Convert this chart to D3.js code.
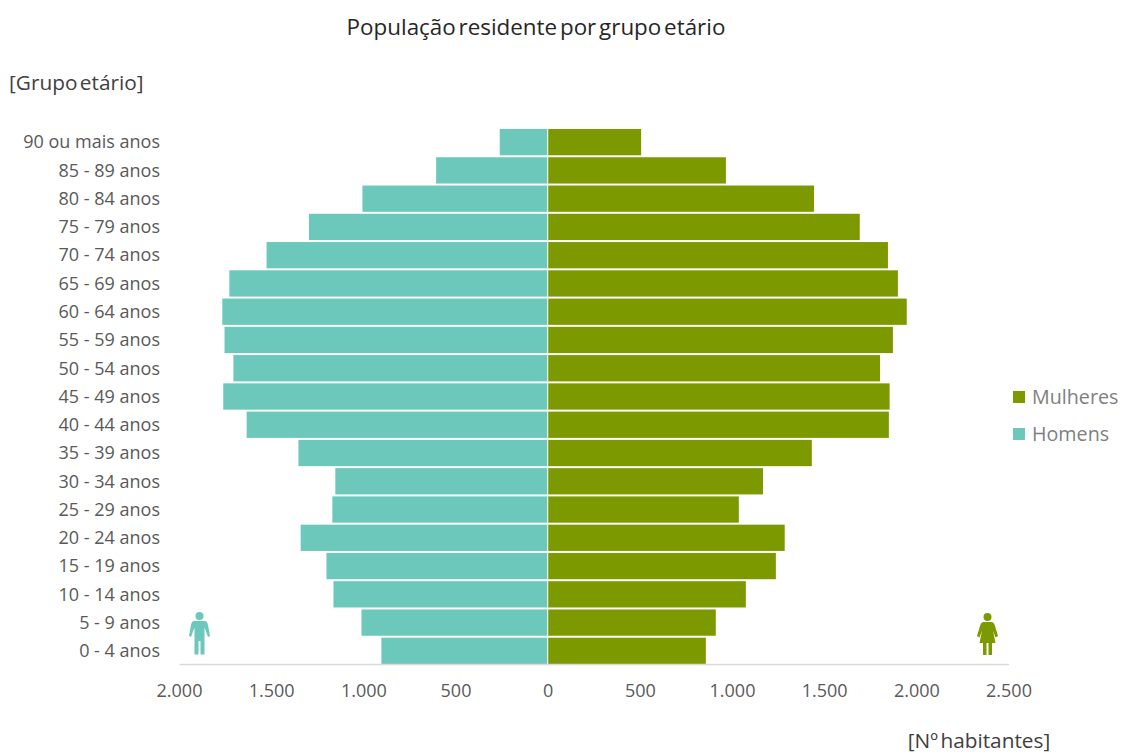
<!DOCTYPE html>
<html lang="pt">
<head>
<meta charset="utf-8">
<title>População residente por grupo etário</title>
<script src="https://cdn.jsdelivr.net/npm/d3@7"></script>
<style>
  html, body { margin: 0; padding: 0; background: #fff; }
  svg { display: block; font-family: "Open Sans", sans-serif; }
  .tick-label { font-size: 18px; fill: #595959; font-family: "Open Sans", sans-serif; }
</style>
</head>
<body>
<div id="chart"></div>
<script>
// Age groups, oldest first (top of the pyramid)
const groups = ["90 ou mais anos","85 - 89 anos","80 - 84 anos","75 - 79 anos","70 - 74 anos","65 - 69 anos","60 - 64 anos","55 - 59 anos","50 - 54 anos","45 - 49 anos","40 - 44 anos","35 - 39 anos","30 - 34 anos","25 - 29 anos","20 - 24 anos","15 - 19 anos","10 - 14 anos","5 - 9 anos","0 - 4 anos"];
const homens = [260,605,1005,1295,1525,1727,1765,1753,1705,1760,1633,1352,1152,1168,1340,1200,1162,1010,902];
const mulheres = [507,967,1445,1693,1846,1900,1948,1873,1803,1855,1851,1433,1168,1037,1286,1238,1075,912,858];
const xTicks = [-2000,-1500,-1000,-500,0,500,1000,1500,2000,2500];

const colorHomens = "#6cc8ba";
const colorMulheres = "#7c9a00";
const fmt = v => String(Math.abs(v)).replace(/\B(?=(\d{3})+$)/g, ".");

const width = 1122, height = 754;
const svg = d3.select("#chart").append("svg").attr("width", width).attr("height", height);

const x = d3.scaleLinear().domain([-2000, 2500]).range([179, 1008.5]);
const y = d3.scaleBand().domain(groups).range([129, 664]).paddingInner(0.07).paddingOuter(0);

// Men extend to the left of zero, women to the right
svg.append("g").selectAll("rect").data(groups).join("rect")
  .attr("x", (d, i) => x(-homens[i]))
  .attr("y", d => y(d))
  .attr("width", (d, i) => x(0) - x(-homens[i]))
  .attr("height", y.bandwidth())
  .attr("fill", colorHomens);

svg.append("g").selectAll("rect").data(groups).join("rect")
  .attr("x", x(0))
  .attr("y", d => y(d))
  .attr("width", (d, i) => x(mulheres[i]) - x(0))
  .attr("height", y.bandwidth())
  .attr("fill", colorMulheres);

// Thin light seam between the two halves
svg.append("line")
  .attr("x1", x(0)).attr("x2", x(0))
  .attr("y1", y.range()[0]).attr("y2", y.range()[1])
  .attr("stroke", "#e6f4ea").attr("stroke-width", 1.2);

// Baseline and value axis
const xAxis = svg.append("g").attr("transform", "translate(0,664)")
  .call(d3.axisBottom(x).tickValues(xTicks).tickFormat(fmt).tickSize(0).tickPadding(20));
xAxis.select(".domain").attr("stroke", "#d9d9d9").attr("stroke-width", 1.5);
xAxis.selectAll("text").attr("class", "tick-label");

// Age group axis
const yAxis = svg.append("g").attr("transform", "translate(160,0.5)")
  .call(d3.axisLeft(y).tickSize(0).tickPadding(0));
yAxis.select(".domain").remove();
yAxis.selectAll("text").attr("class", "tick-label");

// Titles
svg.append("text").attr("x", 536).attr("y", 35).attr("text-anchor", "middle")
  .attr("font-size", 22.4).attr("fill", "#262626").attr("word-spacing", -3)
  .text("População residente por grupo etário");
svg.append("text").attr("x", 9).attr("y", 90)
  .attr("font-size", 20.8).attr("fill", "#404040").attr("word-spacing", -3)
  .text("[Grupo etário]");
svg.append("text").attr("x", 979).attr("y", 748).attr("text-anchor", "middle")
  .attr("font-size", 20.8).attr("fill", "#404040").attr("word-spacing", -3)
  .text("[Nº habitantes]");

// Legend
const legend = svg.append("g");
[["Mulheres", colorMulheres, 397], ["Homens", colorHomens, 434]].forEach(([name, color, cy]) => {
  legend.append("rect").attr("x", 1013).attr("y", cy - 6).attr("width", 12).attr("height", 12).attr("fill", color);
  legend.append("text").attr("x", 1032).attr("y", cy + 7).attr("font-size", 19.7).attr("fill", "#7f7f7f").text(name);
});

// Pictograms standing on the baseline
const man = "M0 0a4 4 0 1 1 0 8a4 4 0 1 1 0-8M-5 9H5C7.5 9 8 11 8.5 13L10.500 24L8.500 25L5 15.500V28.500V42.500H1V29H-1V42.500H-5V28.500V15.500L-8.500 25L-10.500 24L-8.500 13C-8 11-7.500 9-5 9Z";
const woman = "M0 0a4 4 0 1 1 0 8a4 4 0 1 1 0-8M-3.500 9H3.500C6 9 7 11 7.500 13L10.500 23L8 24.500L5.500 17.500L8 30H4.500V42H1V30H-1V42H-4.500V30H-8L-5.500 17.500L-8 24.500L-10.500 23L-7.500 13C-7 11-6 9-3.500 9Z";
svg.append("path").attr("d", man).attr("fill", colorHomens).attr("transform", "translate(199.500,612)");
svg.append("path").attr("d", woman).attr("fill", colorMulheres).attr("transform", "translate(987.500,613)");
</script>
</body>
</html>
